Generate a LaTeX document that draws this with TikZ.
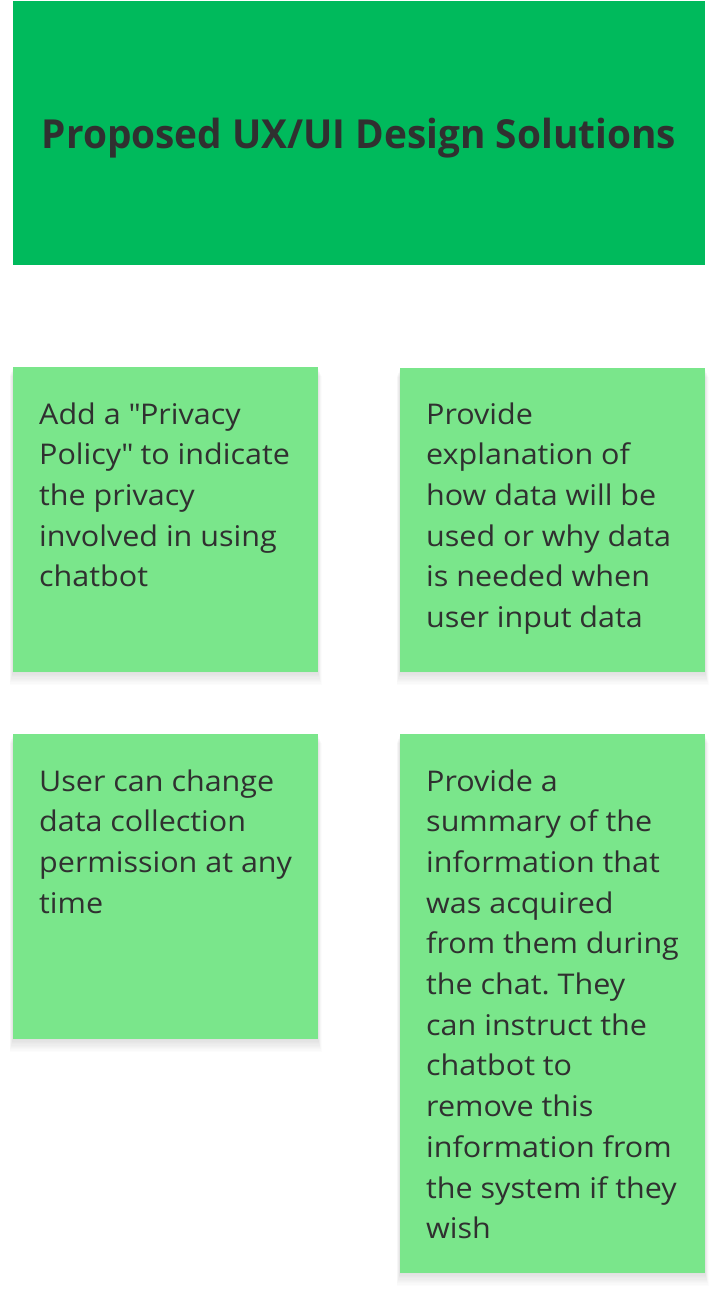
\documentclass[tikz,border=0pt]{standalone}
\usepackage{fontspec}
\usepackage{graphicx}
\setmainfont{Open Sans}
\newfontfamily\notefont[FakeStretch=1.07]{Open Sans}
\definecolor{titlegreen}{HTML}{00BA5C}
\definecolor{notegreen}{HTML}{7AE68B}
\definecolor{inktext}{HTML}{303030}
\frenchspacing
\newcommand{\notelines}[1]{\vtop{\notefont\fontsize{28.5}{40.7}\selectfont #1}}
\newcommand{\nl}[1]{\hbox{#1}}
\begin{document}
\begin{tikzpicture}[x=1pt,y=-1pt,
  notetext/.style={anchor=base west,align=left,inner sep=0pt,text=inktext},
  notebox/.style={fill=notegreen,draw=none}]
\useasboundingbox (0,0) rectangle (718,1296);
\newcommand{\softshadow}[4]{%
  \foreach \k in {1,...,10}{%
    \fill[black,opacity=0.011] (#1-\k*0.35,#2+\k*0.9) rectangle (#3+\k*0.35,#4+\k*1.3);
  }}
% title
\fill[titlegreen] (13,1) rectangle (705,265);
\node[anchor=base,inner sep=0pt,text=inktext,font=\fontsize{40}{48}\bfseries] (title) at (359,148)
  {\resizebox{634pt}{\height}{Proposed UX/UI Design Solutions}};
% shadows
\softshadow{13}{367}{318}{672}
\softshadow{400}{368}{705}{672}
\softshadow{13}{734}{318}{1039}
\softshadow{400}{734}{705}{1273}
% notes
\fill[notebox] (13,367) rectangle (318,672);
\fill[notebox] (400,368) rectangle (705,672);
\fill[notebox] (13,734) rectangle (318,1039);
\fill[notebox] (400,734) rectangle (705,1273);
\node[notetext] (n1) at (39,424) {\notelines{\nl{Add a \textquotedbl Privacy}\nl{Policy\textquotedbl\ to indicate}\nl{the privacy}\nl{involved in using}\nl{chatbot}}};
\node[notetext] (n2) at (426,424) {\notelines{\nl{Provide}\nl{explanation of}\nl{how data will be}\nl{used or why data}\nl{is needed when}\nl{user input data}}};
\node[notetext] (n3) at (39,791) {\notelines{\nl{User can change}\nl{data collection}\nl{permission at any}\nl{time}}};
\node[notetext] (n4) at (426,791) {\notelines{\nl{Provide a}\nl{summary of the}\nl{information that}\nl{was acquired}\nl{from them during}\nl{the chat. They}\nl{can instruct the}\nl{chatbot to}\nl{remove this}\nl{information from}\nl{the system if they}\nl{wish}}};
\end{tikzpicture}
\end{document}
